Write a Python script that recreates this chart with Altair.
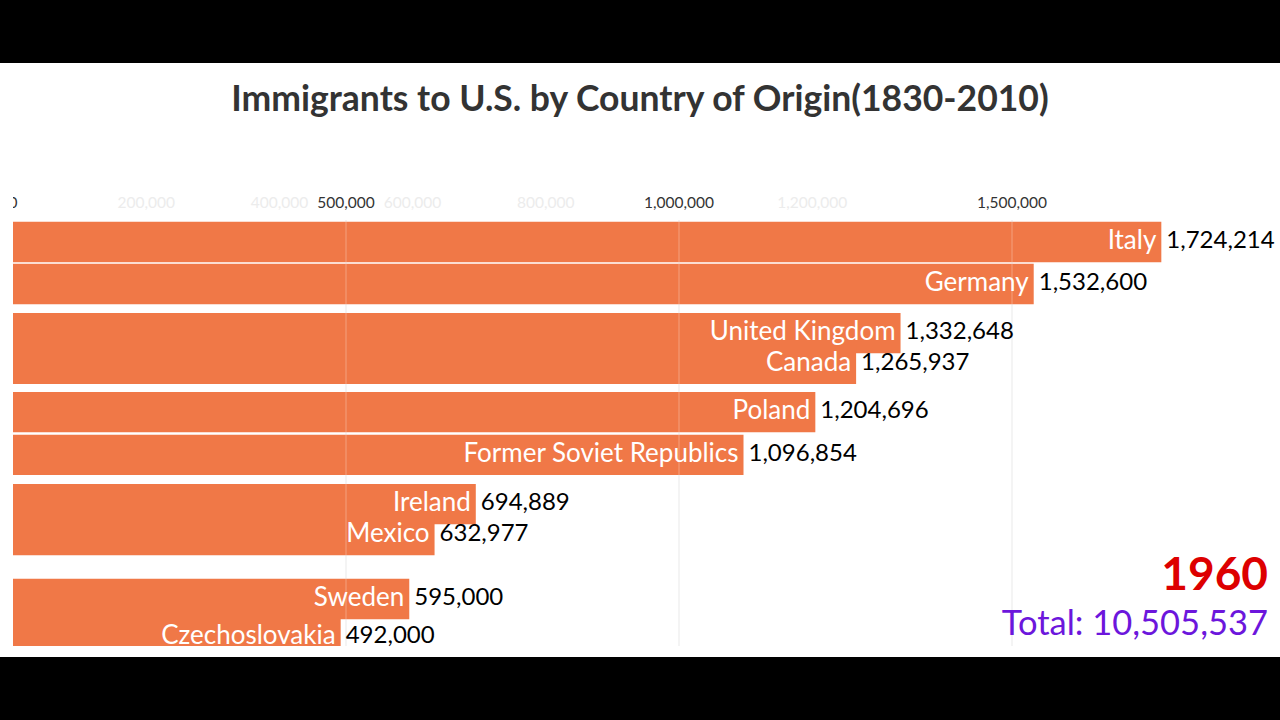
import altair as alt
import pandas as pd

# Frame of the immigration bar race: 1960
countries = ["Italy", "Germany", "United Kingdom", "Canada", "Poland",
             "Former Soviet Republics", "Ireland", "Mexico", "Sweden", "Czechoslovakia"]
values = [1724214, 1532600, 1332648, 1265937, 1204696,
          1096854, 694889, 632977, 595000, 492000]
# slot positions mid-transition (1 = top row)
slots = [1.0, 2.0, 3.17, 3.9, 5.05, 6.07, 7.24, 7.98, 9.5, 10.4]

year_label = "1960"
total_label = "Total: 10,505,537"
title_text = "Immigrants to U.S. by Country of Origin(1830-2010)"

tick_values = [0, 500000, 1000000, 1500000]
fading_ticks = [200000, 400000, 600000, 800000, 1200000]

W, H = 1267, 426
PAD = {"left": 13, "top": 220, "right": 0, "bottom": 74}
FONT = "Lato"
BAR = "#f07847"

df = pd.DataFrame({"country": countries, "value": values, "slot": slots})
ticks = pd.DataFrame({"v": tick_values})
fade = pd.DataFrame({"v": fading_ticks})
one = pd.DataFrame({"k": [0]})

xs = alt.Scale(domain=[0, 1902400], range=[0, W], nice=False, zero=True)
ys = alt.Scale(domain=[0, 10], range=[-20, 400], nice=False, zero=False)

# white page between the letterbox bands
page = alt.Chart(one).mark_rect(color="white").encode(
    x=alt.value(-PAD["left"]), x2=alt.value(W),
    y=alt.value(63 - PAD["top"]), y2=alt.value(657 - PAD["top"]))

title = alt.Chart(one).mark_text(
    text=title_text, font=FONT, fontSize=35.5, fontWeight="bold", color="#333333",
    align="center", baseline="middle").encode(
    x=alt.value(640 - PAD["left"]), y=alt.value(100 - PAD["top"]))

grid = alt.Chart(ticks).transform_filter("datum.v > 0").mark_rule(
    color="#e6e6e6", strokeWidth=1).encode(
    x=alt.X("v:Q", scale=xs, axis=None), y=alt.value(0), y2=alt.value(H))

grid_over = alt.Chart(ticks).transform_filter("datum.v > 0").mark_rule(
    color="white", strokeWidth=1, opacity=0.3).encode(
    x=alt.X("v:Q", scale=xs, axis=None), y=alt.value(0), y2=alt.value(H))

tick_text = alt.Chart(ticks).mark_text(
    font=FONT, fontSize=15.5, color="#333333", align="center", baseline="middle").encode(
    x=alt.X("v:Q", scale=xs, axis=None), y=alt.value(203 - PAD["top"]),
    text=alt.Text("v:Q", format=","))

fade_text = alt.Chart(fade).mark_text(
    font=FONT, fontSize=15.5, color="#ececec", align="center", baseline="middle").encode(
    x=alt.X("v:Q", scale=xs, axis=None), y=alt.value(203 - PAD["top"]),
    text=alt.Text("v:Q", format=","))

# the zero label slides off the left edge
mask = alt.Chart(one).mark_rect(color="white").encode(
    x=alt.value(-PAD["left"]), x2=alt.value(0),
    y=alt.value(190 - PAD["top"]), y2=alt.value(216 - PAD["top"]))

bars = alt.Chart(df).transform_calculate(
    y0="datum.slot - 0.48", y1="datum.slot + 0.48").mark_bar(
    color=BAR, clip=True, cornerRadius=0).encode(
    x=alt.X("value:Q", scale=xs, axis=None),
    x2=alt.datum(0),
    y=alt.Y("y0:Q", scale=ys, axis=None),
    y2="y1:Q")

names = alt.Chart(df).mark_text(
    font=FONT, fontSize=26, color="white", align="right", baseline="middle", dx=-5, dy=-1).encode(
    x=alt.X("value:Q", scale=xs, axis=None),
    y=alt.Y("slot:Q", scale=ys, axis=None),
    text="country:N")

nums = alt.Chart(df).mark_text(
    font=FONT, fontSize=24, color="black", align="left", baseline="middle", dx=5, dy=-1).encode(
    x=alt.X("value:Q", scale=xs, axis=None),
    y=alt.Y("slot:Q", scale=ys, axis=None),
    text=alt.Text("value:Q", format=","))

year = alt.Chart(one).mark_text(
    text=year_label, font=FONT, fontSize=46, fontWeight="bold", color="#dd0000",
    align="right", baseline="alphabetic").encode(
    x=alt.value(1268 - PAD["left"]), y=alt.value(590 - PAD["top"]))

total = alt.Chart(one).mark_text(
    text=total_label, font=FONT, fontSize=34.5, color="#6c16dc",
    align="right", baseline="alphabetic").encode(
    x=alt.value(1268 - PAD["left"]), y=alt.value(635 - PAD["top"]))

chart = alt.layer(
    page, title, grid, fade_text, tick_text, mask, bars, grid_over, names, nums, year, total
).properties(
    width=W, height=H,
    autosize=alt.AutoSizeParams(type="none"),
    padding=PAD,
    background="black",
).configure_view(stroke=None)

chart.save("out.html", embed_options={"renderer": "svg", "actions": False})
